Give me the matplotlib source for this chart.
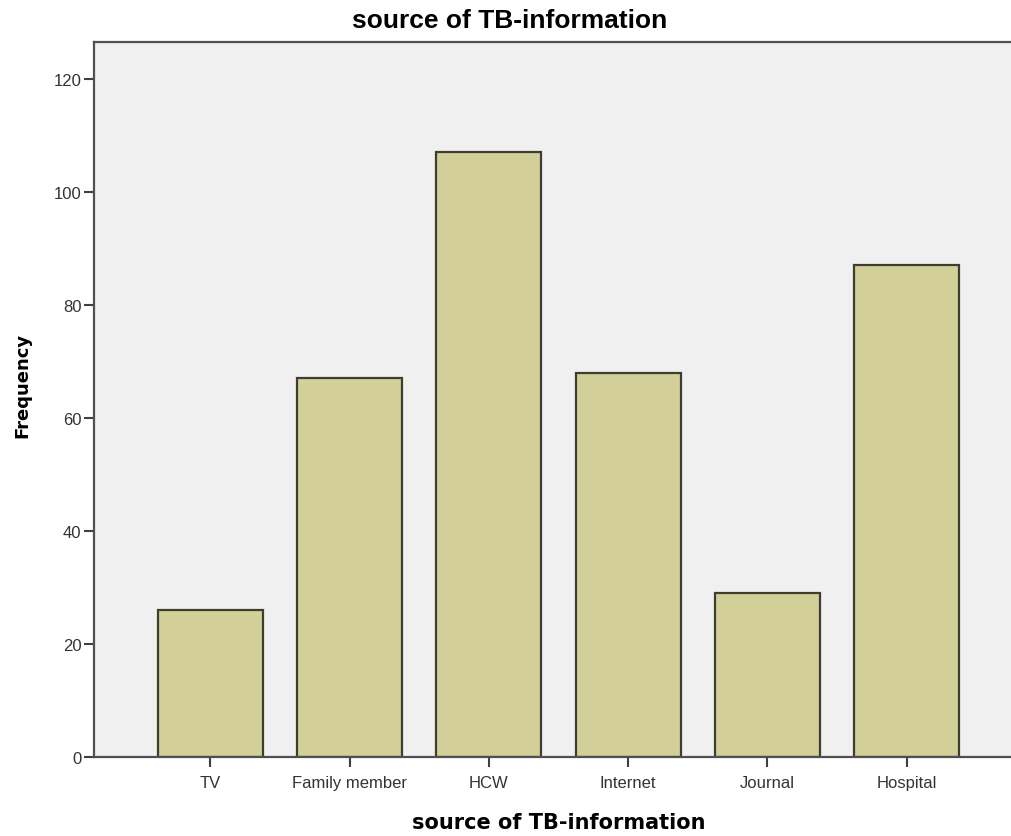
import numpy as np
import matplotlib.pyplot as plt

# Data
sources = ['TV', 'Family member', 'HCW', 'Internet', 'Journal', 'Hospital']
frequency = [26, 67, 107, 68, 29, 87]
y_ticks = [0, 20, 40, 60, 80, 100, 120]

W, H = 1012, 837
fig = plt.figure(figsize=(W / 100, H / 100), dpi=100)
# plot area runs past the right edge of the image, as in the original
ax = fig.add_axes([94 / W, (H - 758) / H, (1023 - 94) / W, (758 - 43) / H])
ax.set_facecolor('#f0f0f0')

x = np.arange(len(sources))
ax.bar(x, frequency, width=0.753, color='#d3cf98', edgecolor='#3e3e30', linewidth=1.6)

ax.set_xlim(-0.836, len(sources) - 1 + 0.836)
ax.set_ylim(0, 126.5)
ax.set_yticks(y_ticks)
ax.set_xticks(x)
ax.set_xticklabels(sources)

for s in ax.spines.values():
    s.set_color('#505050')
    s.set_linewidth(1.6)

ax.tick_params(axis='both', direction='out', length=7, width=1.5, color='#404040',
               labelsize=12, labelcolor='#333333', pad=2)
ax.tick_params(axis='x', pad=6)
for lbl in ax.get_xticklabels() + ax.get_yticklabels():
    lbl.set_family('Liberation Sans')

ax.set_xlabel('source of TB-information', fontsize=15, fontweight='bold')
ax.xaxis.set_label_coords(0.5, (758 - 813) / 715)
ax.set_ylabel('Frequency', fontsize=13, fontweight='bold')
ax.yaxis.set_label_coords((22 - 94) / 929, (758 - 385) / 715)
ax.yaxis.label.set_va('center')
fig.text(510 / W, 1 - 21 / H, 'source of TB-information', fontsize=19,
         fontweight='bold', family='Liberation Sans', ha='center', va='center')

fig.savefig('out.png', dpi=100)
